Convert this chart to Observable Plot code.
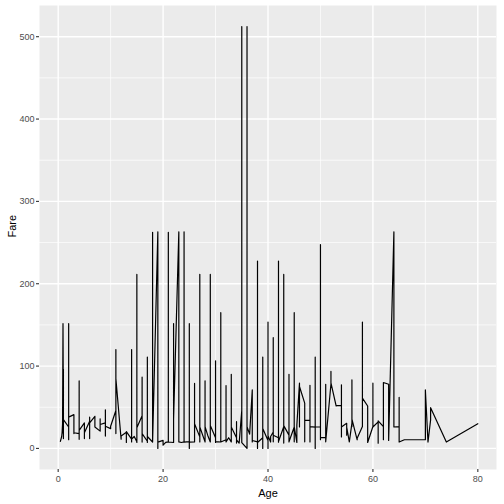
<!DOCTYPE html>
<html>
<head>
<meta charset="utf-8">
<script src="https://cdn.jsdelivr.net/npm/d3@7"></script>
<script src="https://cdn.jsdelivr.net/npm/@observablehq/plot@0.6"></script>
<style>
  html, body { margin: 0; padding: 0; background: white; }
  #chart { width: 504px; height: 504px; }
</style>
</head>
<body>
<div id="chart"></div>
<script>
// Points, in age order (ties kept in reading order)
const age = [
  0.42, 0.67, 0.75, 0.75, 0.83, 0.83, 0.92,
  1, 1, 1, 1, 1,
  2, 2, 2, 2, 2, 2,
  3, 3, 3, 3,
  4, 4, 4, 4, 4,
  5, 5, 5, 5,
  6, 6, 6, 6,
  7, 7,
  8, 8, 8,
  9, 9, 9, 9,
  10, 10,
  11, 11, 11, 11, 11,
  12, 12,
  13, 13, 13,
  14, 14, 14, 14, 14,
  14.5,
  15, 15, 15, 15, 15,
  16, 16, 16, 16, 16, 16, 16,
  17, 17, 17, 17, 17, 17,
  18, 18, 18, 18, 18, 18, 18, 18, 18,
  19, 19, 19, 19, 19, 19, 19,
  20, 20, 20,
  20.5,
  21, 21, 21, 21, 21,
  22, 22, 22, 22, 22,
  23, 23, 23, 23, 23,
  23.5,
  24, 24, 24, 24,
  24.5,
  25, 25, 25, 25,
  26, 26, 26, 26, 26, 26,
  27, 27, 27, 27, 27, 27,
  28, 28, 28, 28, 28,
  28.5,
  29, 29, 29, 29, 29, 29,
  30, 30, 30, 30, 30, 30,
  30.5,
  31, 31, 31, 31, 31,
  32, 32, 32, 32, 32,
  32.5,
  33, 33, 33, 33, 33,
  34, 34, 34, 34, 34,
  34.5,
  35, 35, 35, 35, 35, 35, 35, 35,
  36, 36, 36, 36, 36, 36, 36,
  36.5,
  37, 37, 37, 37, 37,
  38, 38, 38, 38, 38,
  39, 39, 39, 39, 39, 39,
  40, 40, 40, 40, 40, 40,
  40.5, 40.5,
  41, 41, 41, 41, 41,
  42, 42, 42, 42, 42, 42,
  43, 43, 43, 43, 43,
  44, 44, 44, 44, 44,
  45, 45, 45, 45, 45, 45,
  45.5, 45.5,
  46, 46, 46, 46,
  47, 47, 47, 47, 47,
  48, 48, 48, 48, 48,
  49, 49, 49, 49, 49,
  50, 50, 50, 50, 50,
  51, 51, 51,
  52, 52, 52,
  53, 53,
  54, 54, 54, 54,
  55, 55, 55,
  55.5,
  56, 56, 56, 56,
  57, 57,
  58, 58, 58, 58, 58, 58,
  59, 59, 59,
  60, 60, 60, 60, 60,
  61, 61, 61,
  62, 62, 62,
  63, 63,
  64, 64, 64, 64,
  65, 65, 65,
  66,
  70, 70,
  70.5,
  71, 71,
  74,
  80
];
const fare = [
  8.5, 14.5, 19.3, 19.3, 29, 18.75, 151.55,
  22, 96, 12, 39.7, 35,
  26, 151.55, 10.5, 29, 21, 38,
  41, 18, 26, 19,
  18, 82, 11, 16, 22,
  31, 12, 27, 19,
  33, 12, 38, 31,
  39, 26,
  21, 36, 29,
  31, 46.9, 15, 27,
  24, 27,
  46, 120, 18, 108, 85,
  11.2, 15,
  19.5, 7.2, 20.5,
  11.2, 30, 120, 7.8, 11.2,
  14.5,
  8, 211.3, 14.5, 7.2, 25,
  39.7, 86.5, 10.5, 26, 38, 7.7, 18,
  8.7, 110.9, 7.2, 57, 10.5, 14.5,
  7.8, 262.4, 8, 227.5, 13, 108.9, 7.8, 53, 7.9,
  263, 7.9, 26, 0, 30, 10.5, 7.7,
  9.8, 7.9, 4,
  7.25,
  8, 262.4, 7.75, 8.05, 7.8,
  7.2, 151.6, 13, 66.6, 35,
  263, 7.9, 10.5, 7.8, 8,
  7.2,
  8, 263, 7.9, 7.7,
  8.05,
  7.9, 151.55, 0, 7.65,
  7.8, 78.9, 8, 25, 18.8, 30,
  14, 211.5, 10.5, 30.5, 7.8, 26,
  7.9, 82.2, 10.5, 7.9, 26.55,
  16.1,
  7.9, 211.3, 10.5, 26, 7.8, 27.7,
  13, 106.4, 7.25, 24, 56.9, 8,
  8,
  7.8, 164.9, 18, 44, 7.8,
  10.5, 76.3, 7.9, 30.5, 8,
  13,
  7.9, 90, 12.3, 7.8, 26,
  13, 26, 6.5, 32.5, 10.5,
  6.4,
  46, 512.33, 53.1, 26, 7.9, 90, 8.05, 7,
  0, 512.33, 104, 71, 10.5, 78.8, 26.4,
  17.4,
  71, 7.9, 26, 53.1, 9.6,
  7.9, 227.5, 0, 31.4, 7.2,
  13, 110.9, 0, 26, 7.9, 24.15,
  9.5, 153.5, 0, 27.7, 7.9, 15.5,
  7.75, 14.5,
  20, 134.5, 8, 51.9, 15.9,
  13, 227.5, 7.55, 26, 52.5, 8.4,
  26.3, 211.3, 8.05, 6.45, 27.7,
  16.1, 90, 7.9, 26, 8.05,
  26, 164.9, 8.05, 134.5, 83.5, 26.55,
  7.2, 28.5,
  79.2, 26, 61.2, 75.25,
  55, 8, 25, 15, 34,
  34, 76.7, 7.85, 52, 26.55,
  25.9, 110.9, 0, 56.9, 26,
  26, 247.5, 13, 10.5, 13,
  13, 77.9, 8.05,
  78.3, 93.5, 79.65,
  51.5, 51.9,
  51.9, 77.3, 14, 26,
  30.5, 16, 26,
  8.05,
  30.7, 83.2, 26.55, 35.5,
  10.5, 12.35,
  26.55, 153.5, 104, 146.5, 29.7, 61,
  51.5, 13.5, 7.25,
  26.55, 79.2, 39, 75.25, 26,
  32.3, 6.25, 33.5,
  26.55, 10.5, 80,
  77.96, 9.6,
  263, 190, 240, 26,
  26.55, 61.98, 7.75,
  10.5,
  10.5, 71,
  7.75,
  34.65, 49.5,
  7.775,
  30
];
const xMajor = [0, 20, 40, 60, 80];
const xMinor = [10, 30, 50, 70];
const yMajor = [0, 100, 200, 300, 400, 500];
const yMinor = [50, 150, 250, 350, 450];
const xTitle = "Age";
const yTitle = "Fare";

const data = age.map((a, i) => ({age: a, fare: fare[i]}));

const chart = Plot.plot({
  width: 504,
  height: 504,
  marginLeft: 39,
  marginRight: 8,
  marginTop: 5,
  marginBottom: 35,
  style: {fontFamily: "'Liberation Sans', Arial, sans-serif", background: "white", overflow: "visible"},
  x: {domain: [-3.56, 83.56], label: null},
  y: {domain: [-25.6, 537.9], label: null},
  marks: [
    Plot.frame({fill: "#EBEBEB", stroke: null}),
    Plot.gridX(xMinor, {stroke: "white", strokeOpacity: 1, strokeWidth: 0.7}),
    Plot.gridY(yMinor, {stroke: "white", strokeOpacity: 1, strokeWidth: 0.7}),
    Plot.gridX(xMajor, {stroke: "white", strokeOpacity: 1, strokeWidth: 1.4}),
    Plot.gridY(yMajor, {stroke: "white", strokeOpacity: 1, strokeWidth: 1.4}),
    Plot.line(data, {x: "age", y: "fare", stroke: "black", strokeWidth: 1.2}),
    Plot.axisX(xMajor, {tickSize: 3, tickPadding: 3, stroke: "#333333", strokeWidth: 1.1, fill: "#4D4D4D", fontSize: 9, label: null}),
    Plot.axisY(yMajor, {tickSize: 3, tickPadding: 2, stroke: "#333333", strokeWidth: 1.1, fill: "#4D4D4D", fontSize: 9, label: null}),
    Plot.text([xTitle], {frameAnchor: "bottom", dy: 24, text: d => d, fontSize: 11, fill: "black", lineAnchor: "middle"}),
    Plot.text([yTitle], {frameAnchor: "left", dx: -27, text: d => d, fontSize: 11, fill: "black", rotate: -90, lineAnchor: "middle"})
  ]
});
document.getElementById("chart").appendChild(chart);
</script>
</body>
</html>
